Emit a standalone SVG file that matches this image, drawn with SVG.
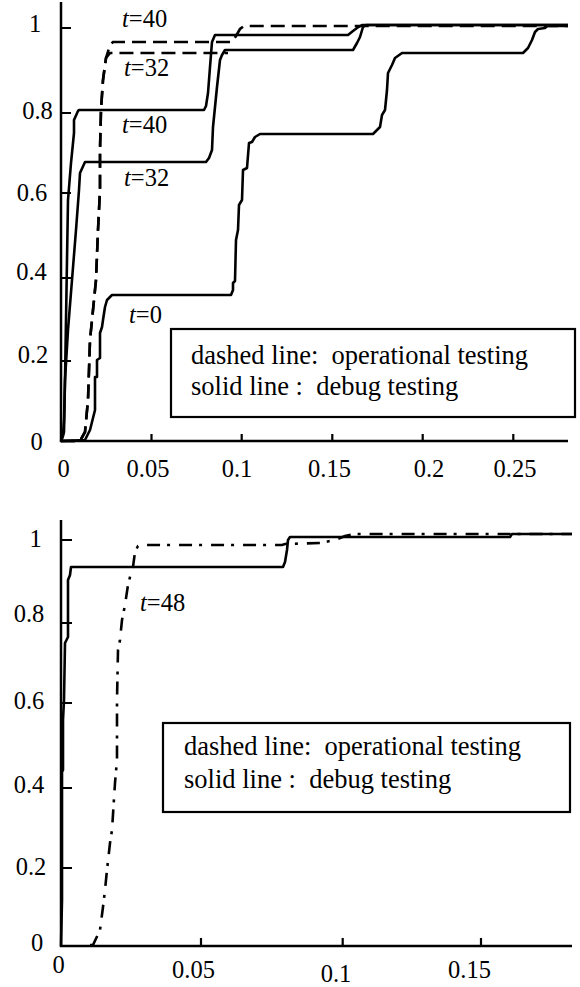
<svg xmlns="http://www.w3.org/2000/svg" width="580" height="987" viewBox="0 0 580 987" font-family="Liberation Serif, DejaVu Serif, serif">
  <style>
    text { fill: #000; }
    .tick { font-size: 24.5px; text-anchor: middle; }
    .lab { font-size: 24.5px; }
    .leg { font-size: 26.5px; }
    .axis { fill: none; stroke: #000; stroke-width: 2.5; }
    .tk { fill: none; stroke: #000; stroke-width: 2.2; }
    .solid { fill: none; stroke: #000; stroke-width: 2.6; stroke-linejoin: round; }
    .dash { fill: none; stroke: #000; stroke-width: 2.6; stroke-dasharray: 14 7; }
    .dashdot { fill: none; stroke: #000; stroke-width: 2.6; stroke-dasharray: 13 7 3 9; }
    .box { fill: none; stroke: #000; stroke-width: 2.2; }
  </style>

  <!-- upper panel -->
  <g id="top-plot">
    <g id="top-axes">
      <path class="axis" d="M61,2 V441 H568"/>
      <path class="tk" d="M61,28 h10 M61,113 h10 M61,193 h10 M61,278 h10 M61,361 h10"/>
      <path class="tk" d="M151.5,441 v-7 M241.7,441 v-7 M332.3,441 v-7 M422.7,441 v-7 M513.3,441 v-7"/>
      <text class="tick" x="35" y="32">1</text>
      <text class="tick" x="37.5" y="119">0.8</text>
      <text class="tick" x="32" y="200.5">0.6</text>
      <text class="tick" x="31.5" y="280">0.4</text>
      <text class="tick" x="33" y="363">0.2</text>
      <text class="tick" x="36.5" y="450">0</text>
      <text class="tick" x="63.5" y="477">0</text>
      <text class="tick" x="148" y="477">0.05</text>
      <text class="tick" x="237" y="477">0.1</text>
      <text class="tick" x="329.5" y="477">0.15</text>
      <text class="tick" x="429" y="477">0.2</text>
      <text class="tick" x="515" y="477">0.25</text>
    </g>
    <g id="top-curves">
      <!-- debug testing, t=40 -->
      <path class="solid" d="M61,441 L63,436 L64,420 L65,380 L66,320 L67,260 L68,200 L71,163 L74,133 L74,120 L78,111 L79,110 H204 L206,106 L208,93 L210,67 L212,42 L215,35 H348 L353,31 L357,28 L362,25 H568"/>
      <!-- debug testing, t=32 -->
      <path class="solid" d="M61,441 L64,432 L65,380 L68,330 L72,280 L76,230 L79,190 L80,173 L85,162 H206 L209,158 L212,150 L213,127 L217,87 L220,60 L222,55 L225,50 H353 L357,43 L360,37 L363,27 L366,25 H568"/>
      <!-- debug testing, t=0 -->
      <path class="solid" d="M61,441 L85,440 L90,430 L95,410 L95,377 L97,377 L97,360 L100,358 L100,333 L102,327 L103,320 L105,307 L107,300 L112,295 H231 L233,290 L233,283 L235,281 L236,240 L238,230 L239,205 L242,200 L243,170 L247,168 L249,143 L252,142 L255,137 L260,134 H373 L380,127 L382,115 L385,110 L387,90 L388,73 L392,65 L395,58 L402,53 H523 L528,48 L532,40 L535,32 L538,29 L545,28 L547,26 H568"/>
      <!-- operational testing, t=40 -->
      <path class="dash" d="M61,441 H80 L85,432 L88,400 L89,370 L90,340 L93,310 L96,280 L98,230 L100,190 L100,150 L101,110 L103,80 L106,58 L110,45 L113,42 H232 L236,36 L240,29 L244,26 H568"/>
      <!-- operational testing, t=32 -->
      <path class="dash" d="M61,441 H80 L85,432 L88,400 L89,370 L90,340 L93,310 L96,280 L98,230 L100,190 L100,150 L101,110 L103,80 L106,58 L110,53 H228"/>
    </g>
    <g id="top-labels">
      <text class="lab" x="122" y="27"><tspan font-style="italic">t</tspan>=40</text>
      <text class="lab" x="124" y="76"><tspan font-style="italic">t</tspan>=32</text>
      <text class="lab" x="122" y="133"><tspan font-style="italic">t</tspan>=40</text>
      <text class="lab" x="124" y="186"><tspan font-style="italic">t</tspan>=32</text>
      <text class="lab" x="129" y="323"><tspan font-style="italic">t</tspan>=0</text>
    </g>
    <g id="top-legend">
      <rect class="box" x="171" y="329" width="404" height="88"/>
      <text class="leg" x="191" y="364" xml:space="preserve">dashed line:  operational testing</text>
      <text class="leg" x="191" y="395" xml:space="preserve">solid line :  debug testing</text>
    </g>
  </g>

  <!-- lower panel -->
  <g id="bottom-plot">
    <g id="bottom-axes">
      <path class="axis" d="M61,520 V946 H572"/>
      <path class="tk" d="M61,540 h11 M61,623 h11 M61,703 h11 M61,788 h11 M61,868 h11"/>
      <path class="tk" d="M201,946 v-8 M342.7,946 v-8 M481,946 v-8"/>
      <text class="tick" x="35.5" y="547">1</text>
      <text class="tick" x="29" y="622">0.8</text>
      <text class="tick" x="29" y="709">0.6</text>
      <text class="tick" x="29" y="793">0.4</text>
      <text class="tick" x="31" y="875">0.2</text>
      <text class="tick" x="37" y="951">0</text>
      <text class="tick" x="58.5" y="973">0</text>
      <text class="tick" x="193.5" y="978">0.05</text>
      <text class="tick" x="336" y="982">0.1</text>
      <text class="tick" x="469.5" y="978">0.15</text>
    </g>
    <g id="bottom-curves">
      <!-- debug testing -->
      <path class="solid" d="M61,946 L62,900 L62,772 L63,770 L63,720 L64,700 L65,643 L68,637 L68,580 L70,575 L71,567 H283 L285,562 L287,550 L288,540 L290,537 H510 L512,534 H572"/>
      <!-- operational testing, t=48 -->
      <path class="dashdot" d="M90,945 H93 L100,930 L103,907 L105,890 L107,870 L110,843 L112,830 L115,783 L117,760 L117,700 L118,650 L120,640 L122,620 L125,605 L128,585 L130,577 L133,567 L135,552 L138,546 L142,545 H282 L285,544 L320,543 L335,540 L345,536 L355,534 H572"/>
    </g>
    <g id="bottom-labels">
      <text class="lab" x="140" y="611"><tspan font-style="italic">t</tspan>=48</text>
    </g>
    <g id="bottom-legend">
      <rect class="box" x="163" y="723" width="407" height="89"/>
      <text class="leg" x="184" y="755" xml:space="preserve">dashed line:  operational testing</text>
      <text class="leg" x="184" y="788" xml:space="preserve">solid line :  debug testing</text>
    </g>
  </g>
</svg>
